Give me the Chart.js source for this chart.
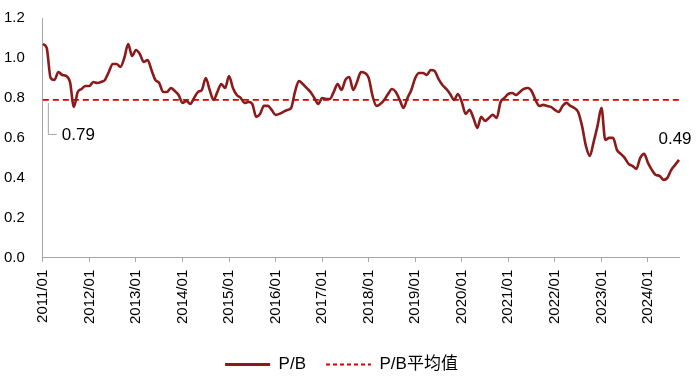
<!DOCTYPE html>
<html><head><meta charset="utf-8">
<script src="https://cdn.jsdelivr.net/npm/chart.js@4.4.1/dist/chart.umd.min.js"></script>
<style>html,body{margin:0;padding:0;background:#fff;}#wrap{width:700px;height:383px;position:relative;}</style>
</head><body><div id="wrap"><canvas id="c"></canvas></div>
<script>
// ---- data ----
const startYear = 2011, endYear = 2024, endMonth = 9;
const months = [];
for (let y = startYear; y <= endYear; y++) {
  for (let m = 1; m <= 12; m++) {
    if (y === endYear && m > endMonth) break;
    months.push(y + '/' + String(m).padStart(2, '0'));
  }
}
const pbValues = [
  1.07,1.05,0.90,0.89,0.93,0.915,0.91,0.88,0.755,0.83,0.845,0.86,
  0.86,0.88,0.875,0.88,0.89,0.93,0.97,0.97,0.955,1.00,1.07,1.01,
  1.04,1.02,0.98,0.99,0.94,0.89,0.875,0.83,0.83,0.85,0.835,0.815,
  0.775,0.785,0.77,0.80,0.83,0.84,0.90,0.84,0.79,0.83,0.87,0.85,
  0.91,0.85,0.815,0.80,0.775,0.78,0.77,0.705,0.72,0.76,0.76,0.74,
  0.715,0.72,0.73,0.74,0.75,0.83,0.885,0.87,0.85,0.83,0.80,0.77,
  0.80,0.795,0.795,0.83,0.87,0.84,0.89,0.905,0.84,0.88,0.93,0.925,
  0.90,0.81,0.76,0.77,0.79,0.82,0.845,0.83,0.79,0.75,0.80,0.84,
  0.90,0.925,0.925,0.915,0.94,0.935,0.895,0.865,0.845,0.82,0.79,0.82,
  0.78,0.72,0.74,0.70,0.65,0.705,0.685,0.70,0.715,0.70,0.78,0.80,
  0.82,0.825,0.815,0.83,0.845,0.85,0.835,0.79,0.76,0.765,0.76,0.755,
  0.74,0.73,0.76,0.775,0.76,0.75,0.73,0.66,0.56,0.51,0.58,0.66,
  0.75,0.59,0.60,0.60,0.54,0.52,0.50,0.47,0.46,0.445,0.50,0.52,
  0.475,0.44,0.415,0.41,0.39,0.40,0.44,0.465,0.49
];
const pbAverage = 0.79;
const seriesNames = ['P/B', 'P/B平均值'];
const yMin = 0, yMax = 1.2, yStep = 0.2;

const FONT = '"Liberation Sans", Arial, "Noto Sans CJK SC", sans-serif';

const annot = {
  id: 'annot',
  afterDatasetsDraw(chart) {
    const {ctx, scales: {x, y}} = chart;
    const x0 = x.getPixelForValue(0), ya = y.getPixelForValue(pbAverage);
    ctx.save();
    ctx.strokeStyle = '#A6A6A6'; ctx.lineWidth = 1;
    ctx.beginPath();
    ctx.moveTo(x0 + 5.5, ya + 3); ctx.lineTo(x0 + 5.5, ya + 34.5); ctx.lineTo(x0 + 14, ya + 34.5);
    ctx.stroke();
    ctx.font = '17px ' + FONT; ctx.fillStyle = '#000'; ctx.textBaseline = 'middle';
    ctx.textAlign = 'left';
    ctx.fillText(pbAverage.toFixed(2), x0 + 19, ya + 35);
    const li = pbValues.length - 1;
    const xl = x.getPixelForValue(li), yl = y.getPixelForValue(pbValues[li]);
    ctx.textAlign = 'center';
    ctx.fillText(pbValues[li].toFixed(2), xl - 4, yl - 21);
    ctx.restore();
  }
};
const legendShift = {
  id: 'legendShift',
  beforeInit(chart) {
    if (chart.legend) chart.legend.afterFit = function () { this.height -= 10; };
  }
};
const legendDash = [[], [4, 3]];
const legendWidth = [3, 2];

new Chart(document.getElementById('c'), {
  type: 'line',
  data: {
    labels: months,
    datasets: [
      { label: seriesNames[0], data: pbValues, borderColor: '#8B1A1A', backgroundColor: '#8B1A1A',
        borderWidth: 2.6, pointRadius: 0, tension: 0.35, cubicInterpolationMode: 'monotone' },
      { label: seriesNames[1], data: months.map(() => pbAverage), borderColor: '#D80000', backgroundColor: '#D80000',
        borderWidth: 1.8, borderDash: [6, 4], pointRadius: 0 }
    ]
  },
  options: {
    responsive: true, maintainAspectRatio: false, animation: false,
    layout: { padding: { left: 4, right: 21, top: 18, bottom: 0 } },
    plugins: {
      tooltip: { enabled: false },
      legend: {
        position: 'bottom',
        labels: { usePointStyle: true, pointStyle: 'line', pointStyleWidth: 45, boxWidth: 45,
          padding: 20, color: '#000', font: { family: FONT, size: 17 },
          generateLabels: chart => {
            const items = Chart.defaults.plugins.legend.labels.generateLabels(chart);
            items.forEach((it, i) => {
              const ds = chart.data.datasets[i];
              it.lineDash = legendDash[i];
              it.strokeStyle = ds.borderColor;
              it.lineWidth = legendWidth[i];
              it.pointStyle = 'line';
            });
            return items;
          } }
      }
    },
    scales: {
      x: {
        grid: { drawOnChartArea: false, drawTicks: true, tickLength: 4, color: '#A6A6A6' },
        border: { display: true, color: '#A6A6A6', width: 1 },
        ticks: { autoSkip: false, minRotation: 90, maxRotation: 90, padding: 8, color: '#000',
          font: { family: FONT, size: 15 },
          callback: function (v, i) { const l = months[i]; return l.endsWith('/01') ? l : null; } },
        afterFit: s => { s.height += 4; s.paddingLeft = 0; s.paddingRight = 0; }
      },
      y: {
        min: yMin, max: yMax,
        grid: { display: false, drawTicks: false },
        border: { display: true, color: '#A6A6A6', width: 1 },
        ticks: { stepSize: yStep, padding: 18, color: '#000', font: { family: FONT, size: 15 },
          callback: v => Number(v).toFixed(1) },
        afterFit: s => { s.width -= 18; s.paddingTop = 0; s.paddingBottom = 0; }
      }
    }
  },
  plugins: [annot, legendShift]
});
</script></body></html>
